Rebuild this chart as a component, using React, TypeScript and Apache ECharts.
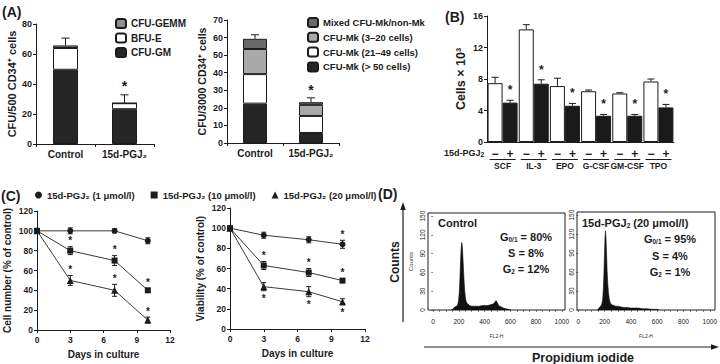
import React, { useEffect, useRef } from 'react';
import * as echarts from 'echarts';

const FF = '"Liberation Sans", Arial, Helvetica, sans-serif';
const ink = '#1c1c1c';

// ---- Panel A (left): CFU per 500 CD34+ cells
const aGroups = ['Control', '15d-PGJ₂'];
const aCfuGM = [49.5, 23.2];
const aBfuE = [14.5, 4.0];
const aCfuGEMM = [1.7, 0];
const aErr = [4.9, 5.6];
const aSig = [0, 1];

// ---- Panel A (right): CFU-Mk per 3000 CD34+ cells
const mkOver50 = [22.4, 5.7];
const mk21to49 = [16.8, 9.7];
const mk3to20 = [14.3, 6.3];
const mkMixed = [5.8, 1.5];
const mkErr = [2.3, 2.5];
const mkSig = [0, 1];

// ---- Panel B: cells x 10^3
const cytokines = ['SCF', 'IL-3', 'EPO', 'G-CSF', 'GM-CSF', 'TPO'];
const bControl = [7.47, 14.3, 7.1, 6.45, 6.16, 7.68];
const bControlErr = [0.75, 0.6, 1.0, 0.15, 0.1, 0.32];
const bTreated = [5.0, 7.4, 4.6, 3.33, 3.33, 4.39];
const bTreatedErr = [0.3, 0.5, 0.3, 0.17, 0.17, 0.38];
const bSig = [1, 1, 1, 1, 1, 1];

// ---- Panel C: time course
const days = [0, 3, 7, 10];
const doseNames = ['15d-PGJ₂ (1 μmol/l)', '15d-PGJ₂ (10 μmol/l)', '15d-PGJ₂ (20 μmol/l)'];
const doseSymbols = ['circle', 'rect', 'triangle'];
const cnt1 = [100, 100, 100, 90];
const cnt1Err = [0, 3, 2, 3];
const cnt1Sig = [0, 0, 0, 0];
const cnt10 = [100, 80, 70, 40];
const cnt10Err = [0, 4, 5, 2];
const cnt10Sig = [0, 1, 1, 1];
const cnt20 = [100, 50, 40, 10];
const cnt20Err = [0, 5, 6, 3];
const cnt20Sig = [0, 1, 1, 1];
const via1 = [100, 93, 88.5, 84];
const via1Err = [0, 3, 3, 4];
const via1Sig = [0, 0, 0, 1];
const via10 = [100, 63, 56, 48];
const via10Err = [0, 4, 4, 2];
const via10Sig = [0, 1, 1, 1];
const via20 = [100, 42, 37, 27];
const via20Err = [0, 4, 5, 3];
const via20Sig = [0, -1, -1, -1];

// ---- Panel D: DNA content histograms (FL2-H channel, counts)
const ctrlHist = [[140,0],[150,1],[160,3],[170,5],[180,6],[190,8],[197,14],[203,28],[208,50],[213,78],[218,100],[222,108],[226,104],[230,90],[235,68],[240,48],[245,32],[250,21],[256,14],[263,11],[272,9],[285,7],[300,6],[320,6],[340,6],[360,6],[380,7],[400,7],[420,7],[440,8],[455,9],[468,10],[478,12],[488,15],[496,13],[505,9],[515,6],[528,5],[545,3],[565,2],[585,1],[605,0]];
const pgjHist = [[140,0],[150,1],[160,4],[170,6],[178,9],[185,16],[190,32],[195,58],[199,88],[203,115],[207,125],[211,112],[215,88],[219,62],[224,42],[229,28],[235,18],[242,12],[250,9],[260,8],[272,7],[285,6],[300,6],[320,5],[345,4],[370,4],[400,3],[430,3],[460,3],[490,2],[520,2],[560,1],[600,1],[615,0]];
const ctrlPhases = ['G{s|0/1} = 80%', 'S = 8%', 'G{s|2} = 12%'];
const pgjPhases = ['G{s|0/1} = 95%', 'S = 4%', 'G{s|2} = 1%'];
const flowTicks = [0, 200, 400, 600, 800, 1000];
const flowMinor = [0, 50, 100, 150, 200, 250, 300, 350, 400, 450, 500, 550, 600, 650, 700, 750, 800, 850, 900, 950, 1000];

const bold = (size: number) => ({ fontSize: size, fontWeight: 'bold' as const, fontFamily: FF, color: ink });

function errSeries(xi: number, data: number[][], cap: number, both: boolean, dx = 0) {
  return {
    type: 'custom', xAxisIndex: xi, yAxisIndex: xi, data, z: 6, silent: true,
    renderItem: (_p: any, api: any) => {
      const x = api.value(0), y = api.value(1), e = api.value(2);
      if (!e) return { type: 'group', children: [] };
      const c = api.coord([x, y]);
      const hi = api.coord([x, y + e]);
      const lo = api.coord([x, y - e]);
      const px = c[0] + dx;
      const bot = both ? lo[1] : c[1];
      const st = { stroke: ink, lineWidth: 1 };
      const ch: any[] = [
        { type: 'line', shape: { x1: px, y1: bot, x2: px, y2: hi[1] }, style: st },
        { type: 'line', shape: { x1: px - cap, y1: hi[1], x2: px + cap, y2: hi[1] }, style: st },
      ];
      if (both) ch.push({ type: 'line', shape: { x1: px - cap, y1: lo[1], x2: px + cap, y2: lo[1] }, style: st });
      return { type: 'group', children: ch };
    },
  };
}

function starSeries(xi: number, data: number[][], size: number, gapUp: number, gapDown: number, dx = 0) {
  return {
    type: 'custom', xAxisIndex: xi, yAxisIndex: xi, data, z: 7, silent: true,
    renderItem: (_p: any, api: any) => {
      const x = api.value(0), y = api.value(1), d = api.value(2);
      const c = api.coord([x, y]);
      return {
        type: 'text', x: c[0] + dx, y: c[1] + (d > 0 ? -gapUp : gapDown),
        style: { text: '*', fill: ink, font: `bold ${size}px ${FF}`, align: 'center', verticalAlign: 'middle', textAlign: 'center', textVerticalAlign: 'middle' },
      };
    },
  };
}

function sum(...arrs: number[][]) {
  return arrs[0].map((_, i) => arrs.reduce((s, a) => s + a[i], 0));
}

function buildOption() {
  const aTotal = sum(aCfuGM, aBfuE, aCfuGEMM);
  const mkTotal = sum(mkOver50, mk21to49, mk3to20, mkMixed);

  const valueY = (gi: number, max: number, interval: number, name: string, nameGap: number, nameSize: number, labelSize: number) => ({
    gridIndex: gi, type: 'value', min: 0, max, interval,
    splitLine: { show: false },
    axisLine: { show: true, lineStyle: { color: ink, width: 1 } },
    axisTick: { show: true, length: 3, lineStyle: { color: ink } },
    axisLabel: { ...bold(labelSize), margin: 4 },
    name, nameLocation: 'middle', nameGap, nameTextStyle: bold(nameSize),
  });

  const grids = [
    { left: 36, top: 24, width: 118, height: 120 },
    { left: 227, top: 20, width: 112, height: 123 },
    { left: 487, top: 16, width: 187, height: 126 },
    { left: 37, top: 211, width: 133, height: 119 },
    { left: 230, top: 208, width: 135, height: 121 },
    { left: 428, top: 213, width: 137, height: 97, show: true, borderColor: ink, borderWidth: 1, backgroundColor: 'transparent' },
    { left: 577, top: 212, width: 140, height: 98, show: true, borderColor: ink, borderWidth: 1, backgroundColor: 'transparent' },
  ];

  const catX = (gi: number, data: string[]) => ({
    gridIndex: gi, type: 'category', data,
    axisLine: { lineStyle: { color: ink, width: 1 } },
    axisTick: { show: true, length: 3, alignWithLabel: false, lineStyle: { color: ink } },
    axisLabel: { ...bold(10), margin: 5, interval: 0, hideOverlap: false },
  });

  const dayX = (gi: number) => ({
    gridIndex: gi, type: 'value', min: 0, max: 12, interval: 3,
    splitLine: { show: false },
    axisLine: { lineStyle: { color: ink, width: 1 } },
    axisTick: { show: true, length: 3, lineStyle: { color: ink } },
    axisLabel: { ...bold(8.5), margin: 5 },
    name: 'Days in culture', nameLocation: 'middle', nameGap: 19, nameTextStyle: bold(10),
  });

  const flowX = (gi: number, min: number, max: number) => ({
    gridIndex: gi, type: 'value', min, max,
    splitLine: { show: false },
    axisLine: { show: false },
    axisTick: { show: true, length: 2, inside: false, customValues: flowMinor, lineStyle: { color: '#333', width: 0.6 } },
    axisLabel: { customValues: flowTicks, fontSize: 6.5, fontFamily: FF, color: '#222', margin: 8, formatter: (v: number) => String(v) },
    name: 'FL2-H', nameLocation: 'middle', nameGap: 23, nameTextStyle: { fontSize: 5, fontFamily: FF, color: '#333' },
  });

  const flowY = (gi: number, withName: boolean) => ({
    gridIndex: gi, type: 'value', min: 0, max: 155, interval: 30, position: 'left',
    splitLine: { show: false },
    axisLine: { show: false },
    axisTick: { show: true, length: 2, lineStyle: { color: '#333', width: 0.6 } },
    axisLabel: { show: true, fontSize: 6.5, fontFamily: FF, color: '#222', rotate: 90, margin: 2, showMaxLabel: false, formatter: (v: number) => String(v) },
    name: withName ? 'Counts' : '', nameLocation: 'middle', nameGap: 14,
    nameTextStyle: { fontSize: 6, fontFamily: FF, color: '#333' },
  });

  const xAxis = [
    catX(0, aGroups),
    catX(1, aGroups),
    {
      gridIndex: 2, type: 'category', data: cytokines,
      axisLine: { lineStyle: { color: ink, width: 1 } },
      axisTick: { show: false },
      axisLabel: {
        interval: 0, margin: 5, fontFamily: FF, color: ink, hideOverlap: false,
        formatter: (v: string) => `{m|−}{p|+}\n{n|${v}}`,
        rich: {
          m: { width: 15, align: 'center', fontSize: 12, fontWeight: 'bold', lineHeight: 13, fontFamily: FF, color: ink },
          p: { width: 15, align: 'center', fontSize: 12, fontWeight: 'bold', lineHeight: 13, fontFamily: FF, color: ink },
          n: { align: 'center', fontSize: 8.5, fontWeight: 'bold', lineHeight: 12, fontFamily: FF, color: ink },
        },
      },
    },
    dayX(3),
    dayX(4),
    flowX(5, -40, 1025),
    flowX(6, -10, 1040),
  ];

  const yAxis = [
    valueY(0, 80, 20, 'CFU/500 CD34⁺ cells', 19, 11, 9),
    valueY(1, 70, 10, 'CFU/3000 CD34⁺ cells', 20, 10.5, 9),
    valueY(2, 16, 4, 'Cells × 10³', 20, 12.5, 9),
    valueY(3, 120, 20, 'Cell number (% of control)', 25, 10, 8.5),
    valueY(4, 120, 20, 'Viability (% of control)', 25, 10, 8.5),
    flowY(5, true),
    flowY(6, false),
  ];

  const stackBar = (gi: number, stack: string, name: string, data: number[], color: string, width: number) => ({
    type: 'bar', name, xAxisIndex: gi, yAxisIndex: gi, stack, data, barWidth: width,
    itemStyle: { color, borderColor: ink, borderWidth: 1 },
  });

  const lineSeries = (gi: number, idx: number, vals: number[]) => ({
    type: 'line', name: doseNames[idx], xAxisIndex: gi, yAxisIndex: gi,
    data: days.map((d, i) => [d, vals[i]]),
    symbol: doseSymbols[idx], symbolSize: idx === 2 ? 7 : 6,
    itemStyle: { color: ink }, lineStyle: { color: '#3a3a3a', width: 1 }, z: 4,
  });

  const errData = (vals: number[], errs: number[]) => days.map((d, i) => [d, vals[i], errs[i]]);
  const starData = (vals: number[], errs: number[], sig: number[]) =>
    days.map((d, i) => [d, vals[i] + sig[i] * errs[i], sig[i]]).filter((r) => r[2] !== 0);

  const series: any[] = [
    stackBar(0, 'a', 'CFU-GM', aCfuGM, '#262626', 25),
    stackBar(0, 'a', 'BFU-E', aBfuE, '#ffffff', 25),
    stackBar(0, 'a', 'CFU-GEMM', aCfuGEMM, '#8f8f8f', 25),
    errSeries(0, aTotal.map((t, i) => [i, t, aErr[i]]), 4, false),
    starSeries(0, aTotal.map((t, i) => [i, t + aErr[i], aSig[i]]).filter((r) => r[2] !== 0), 14, 9, 9),

    stackBar(1, 'mk', 'CFU-Mk (> 50 cells)', mkOver50, '#262626', 24),
    stackBar(1, 'mk', 'CFU-Mk (21–49 cells)', mk21to49, '#ffffff', 24),
    stackBar(1, 'mk', 'CFU-Mk (3–20 cells)', mk3to20, '#a9a9a9', 24),
    stackBar(1, 'mk', 'Mixed CFU-Mk/non-Mk', mkMixed, '#6a6a6a', 24),
    errSeries(1, mkTotal.map((t, i) => [i, t, mkErr[i]]), 4, false),
    starSeries(1, mkTotal.map((t, i) => [i, t + mkErr[i], mkSig[i]]).filter((r) => r[2] !== 0), 14, 8, 8),

    { type: 'bar', name: 'Control', xAxisIndex: 2, yAxisIndex: 2, data: bControl, barWidth: 15, barGap: '0%',
      itemStyle: { color: '#ffffff', borderColor: ink, borderWidth: 1 } },
    { type: 'bar', name: '15d-PGJ₂', xAxisIndex: 2, yAxisIndex: 2, data: bTreated, barWidth: 15, barGap: '0%',
      itemStyle: { color: '#1a1a1a', borderColor: ink, borderWidth: 1 } },
    errSeries(2, bControl.map((v, i) => [i, v, bControlErr[i]]), 3.5, false, -7.5),
    errSeries(2, bTreated.map((v, i) => [i, v, bTreatedErr[i]]), 3.5, false, 7.5),
    starSeries(2, bTreated.map((v, i) => [i, v + bTreatedErr[i], bSig[i]]), 12, 10, 10, 7.5),

    lineSeries(3, 0, cnt1), lineSeries(3, 1, cnt10), lineSeries(3, 2, cnt20),
    errSeries(3, errData(cnt1, cnt1Err), 2.5, true),
    errSeries(3, errData(cnt10, cnt10Err), 2.5, true),
    errSeries(3, errData(cnt20, cnt20Err), 2.5, true),
    starSeries(3, [...starData(cnt1, cnt1Err, cnt1Sig), ...starData(cnt10, cnt10Err, cnt10Sig), ...starData(cnt20, cnt20Err, cnt20Sig)], 10, 6, 8),

    lineSeries(4, 0, via1), lineSeries(4, 1, via10), lineSeries(4, 2, via20),
    errSeries(4, errData(via1, via1Err), 2.5, true),
    errSeries(4, errData(via10, via10Err), 2.5, true),
    errSeries(4, errData(via20, via20Err), 2.5, true),
    starSeries(4, [...starData(via1, via1Err, via1Sig), ...starData(via10, via10Err, via10Sig), ...starData(via20, via20Err, via20Sig)], 10, 6, 8),

    { type: 'line', name: 'Control histogram', xAxisIndex: 5, yAxisIndex: 5, data: ctrlHist, symbol: 'none',
      lineStyle: { color: '#111', width: 0.6 }, areaStyle: { color: '#111', opacity: 1 } },
    { type: 'line', name: '15d-PGJ₂ histogram', xAxisIndex: 6, yAxisIndex: 6, data: pgjHist, symbol: 'none',
      lineStyle: { color: '#111', width: 0.6 }, areaStyle: { color: '#111', opacity: 1 } },
  ];

  const legendText = { fontWeight: 'bold' as const, fontFamily: FF, color: ink };

  return {
    animation: false,
    backgroundColor: '#ffffff',
    textStyle: { fontFamily: FF },
    grid: grids,
    xAxis,
    yAxis,
    series,
    legend: [
      { data: ['CFU-GEMM', 'BFU-E', 'CFU-GM'], orient: 'vertical', left: 115, top: 18, itemWidth: 10, itemHeight: 9,
        itemGap: 3.5, padding: 0, selectedMode: false, textStyle: { ...legendText, fontSize: 10 } },
      { data: ['Mixed CFU-Mk/non-Mk', 'CFU-Mk (3–20 cells)', 'CFU-Mk (21–49 cells)', 'CFU-Mk (> 50 cells)'],
        orient: 'vertical', left: 307, top: 17, itemWidth: 10, itemHeight: 9, itemGap: 3.8, padding: 0,
        selectedMode: false, textStyle: { ...legendText, fontSize: 9.5 } },
      { data: doseNames.map((n, i) => ({ name: n, icon: doseSymbols[i] })), orient: 'horizontal', left: 35, top: 190,
        itemWidth: 7, itemHeight: 7, itemGap: 16, padding: 0, selectedMode: false, textStyle: { ...legendText, fontSize: 9.5 } },
    ],
  };
}

function staticGraphics() {
  const t = (text: string, x: number, y: number, size: number, align = 'left', extra: any = {}) => ({
    type: 'text', x, y, silent: true,
    style: { text, fill: ink, font: `bold ${size}px ${FF}`, align, verticalAlign: 'middle', textAlign: align, textVerticalAlign: 'middle', ...extra },
  });
  const sub = { s: { fontSize: 6.5, fontWeight: 'bold', fontFamily: FF, fill: ink, color: ink, verticalAlign: 'bottom', lineHeight: 8 } };
  const els: any[] = [
    t('(A)', 2, 12, 14),
    t('(B)', 445, 17, 14),
    t('(C)', 1, 196, 14),
    t('(D)', 378, 194, 14),
    t('15d-PGJ{s|2}', 484, 153, 9, 'right', { rich: sub }),
    t('Control', 438, 223, 11),
    t('15d-PGJ{s|2} (20 μmol/l)', 582, 223, 11, 'left', { rich: sub }),
    { type: 'text', x: 395, y: 262, rotation: Math.PI / 2, silent: true,
      style: { text: 'Counts', fill: ink, font: `bold 12px ${FF}`, align: 'center', verticalAlign: 'middle', textAlign: 'center', textVerticalAlign: 'middle' } },
    { type: 'line', silent: true, shape: { x1: 403, y1: 322, x2: 403, y2: 209 }, style: { stroke: ink, lineWidth: 1.2 } },
    { type: 'polygon', silent: true, shape: { points: [[403, 202], [400.3, 210], [405.7, 210]] }, style: { fill: ink } },
    { type: 'line', silent: true, shape: { x1: 424, y1: 347, x2: 712, y2: 347 }, style: { stroke: ink, lineWidth: 1.2 } },
    { type: 'polygon', silent: true, shape: { points: [[719, 347], [711, 344.3], [711, 349.7]] }, style: { fill: ink } },
    t('Propidium iodide', 583, 358, 12.5, 'center'),
  ];
  const phaseY = [237, 253, 269];
  ctrlPhases.forEach((p, i) => els.push(t(p, 526, phaseY[i], 11, 'center', { rich: sub })));
  const phaseY2 = [239, 256, 272];
  pgjPhases.forEach((p, i) => els.push(t(p, 670, phaseY2[i], 11, 'center', { rich: sub })));
  return els;
}

export default function App() {
  const ref = useRef<HTMLDivElement>(null);
  useEffect(() => {
    if (!ref.current) return;
    const chart = echarts.init(ref.current, null, { renderer: 'svg', width: 720, height: 364 });
    chart.setOption(buildOption() as any);
    const els = staticGraphics();
    cytokines.forEach((_c, i) => {
      const p = chart.convertToPixel({ gridIndex: 2 } as any, [i, 0]) as unknown as number[];
      if (p && isFinite(p[0])) {
        els.push({ type: 'line', silent: true, shape: { x1: p[0] - 13, y1: 159.5, x2: p[0] + 13, y2: 159.5 }, style: { stroke: ink, lineWidth: 1 } });
      }
    });
    chart.setOption({ graphic: { elements: els } } as any);
    return () => chart.dispose();
  }, []);
  return <div ref={ref} style={{ position: 'fixed', left: 0, top: 0, width: 720, height: 364, background: '#fff' }} />;
}
